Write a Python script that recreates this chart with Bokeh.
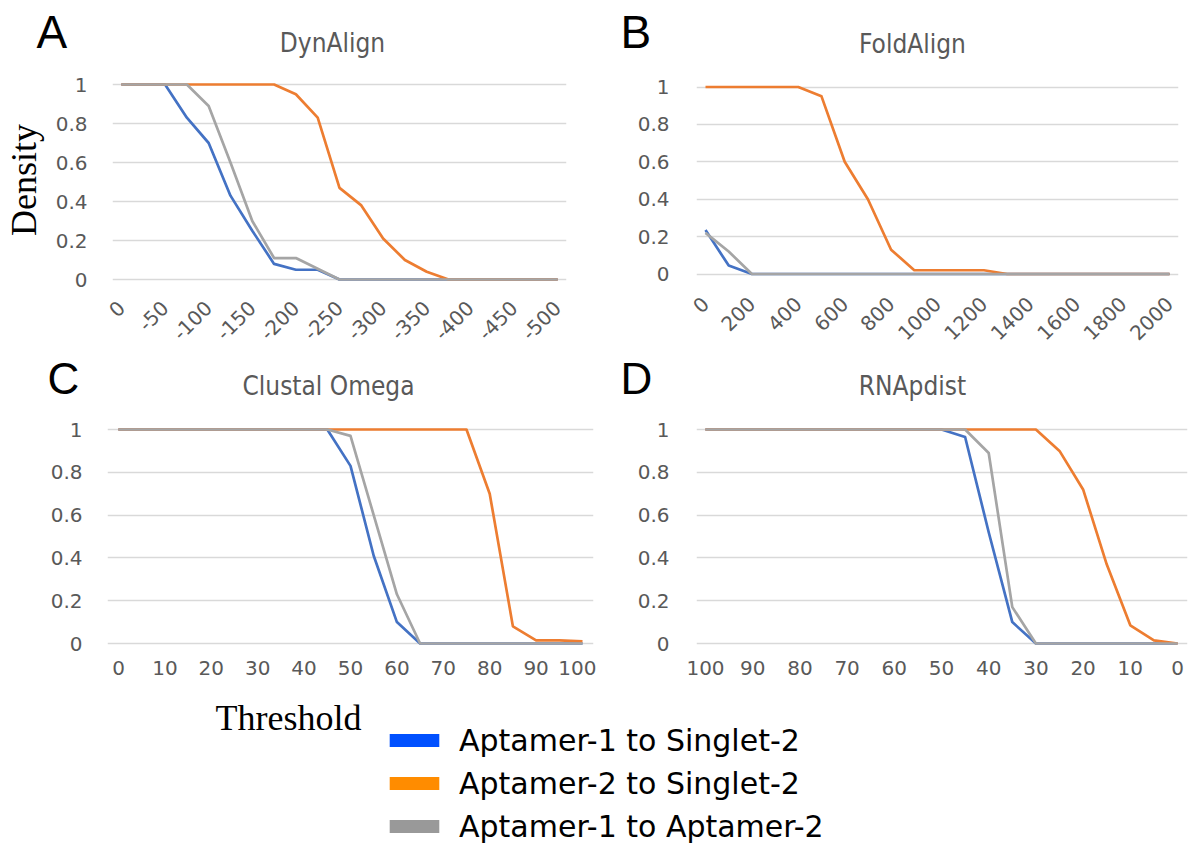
import math
from bokeh.plotting import figure
from bokeh.layouts import column, row
from bokeh.models import Range1d, FixedTicker, NumeralTickFormatter, Label, Legend, LegendItem
from bokeh.embed import file_html
from bokeh.resources import INLINE

# ---------------- data ----------------
series_names = ["Aptamer-1 to Singlet-2", "Aptamer-2 to Singlet-2", "Aptamer-1 to Aptamer-2"]
line_colors = ["#4472C4", "#ED7D31", "#A5A5A5"]
legend_colors = ["#0050FF", "#FF8C00", "#999999"]

dyn_threshold = [0, -25, -50, -75, -100, -125, -150, -175, -200, -225, -250,
                 -275, -300, -325, -350, -375, -400, -425, -450, -475, -500]
dyn_a1_s2 = [1, 1, 1, 0.83, 0.70, 0.43, 0.25, 0.08, 0.05, 0.05, 0, 0, 0, 0, 0, 0, 0, 0, 0, 0, 0]
dyn_a2_s2 = [1, 1, 1, 1, 1, 1, 1, 1, 0.95, 0.83, 0.47, 0.38, 0.21, 0.10, 0.04, 0, 0, 0, 0, 0, 0]
dyn_a1_a2 = [1, 1, 1, 1, 0.89, 0.60, 0.30, 0.11, 0.11, 0.055, 0, 0, 0, 0, 0, 0, 0, 0, 0, 0, 0]
dyn_ticks = [0, -50, -100, -150, -200, -250, -300, -350, -400, -450, -500]

fold_threshold = [0, 100, 200, 300, 400, 500, 600, 700, 800, 900, 1000,
                  1100, 1200, 1300, 1400, 1500, 1600, 1700, 1800, 1900, 2000]
fold_a1_s2 = [0.235, 0.045, 0, 0, 0, 0, 0, 0, 0, 0, 0, 0, 0, 0, 0, 0, 0, 0, 0, 0, 0]
fold_a2_s2 = [1, 1, 1, 1, 1, 0.95, 0.60, 0.40, 0.13, 0.02, 0.02, 0.02, 0.02, 0, 0, 0, 0, 0, 0, 0, 0]
fold_a1_a2 = [0.22, 0.12, 0, 0, 0, 0, 0, 0, 0, 0, 0, 0, 0, 0, 0, 0, 0, 0, 0, 0, 0]
fold_ticks = [0, 200, 400, 600, 800, 1000, 1200, 1400, 1600, 1800, 2000]

clustal_threshold = [0, 5, 10, 15, 20, 25, 30, 35, 40, 45, 50,
                     55, 60, 65, 70, 75, 80, 85, 90, 95, 100]
clustal_a1_s2 = [1, 1, 1, 1, 1, 1, 1, 1, 1, 1, 0.83, 0.41, 0.10, 0, 0, 0, 0, 0, 0, 0, 0]
clustal_a2_s2 = [1, 1, 1, 1, 1, 1, 1, 1, 1, 1, 1, 1, 1, 1, 1, 1, 0.70, 0.08, 0.015, 0.015, 0.01]
clustal_a1_a2 = [1, 1, 1, 1, 1, 1, 1, 1, 1, 1, 0.97, 0.60, 0.23, 0, 0, 0, 0, 0, 0, 0, 0]
clustal_ticks = [0, 10, 20, 30, 40, 50, 60, 70, 80, 90, 100]

rnap_threshold = [100, 95, 90, 85, 80, 75, 70, 65, 60, 55, 50,
                  45, 40, 35, 30, 25, 20, 15, 10, 5, 0]
rnap_a1_s2 = [1, 1, 1, 1, 1, 1, 1, 1, 1, 1, 1, 0.965, 0.52, 0.10, 0, 0, 0, 0, 0, 0, 0]
rnap_a2_s2 = [1, 1, 1, 1, 1, 1, 1, 1, 1, 1, 1, 1, 1, 1, 1, 0.90, 0.72, 0.37, 0.085, 0.015, 0]
rnap_a1_a2 = [1, 1, 1, 1, 1, 1, 1, 1, 1, 1, 1, 1, 0.89, 0.17, 0, 0, 0, 0, 0, 0, 0]
rnap_ticks = [100, 90, 80, 70, 60, 50, 40, 30, 20, 10, 0]

y_ticks = [0, 0.2, 0.4, 0.6, 0.8, 1]

panel_titles = ["DynAlign", "FoldAlign", "Clustal Omega", "RNApdist"]
panel_letters = ["A", "B", "C", "D"]

# ---------------- styling ----------------
TICK_FONT = "DejaVu Sans"
TITLE_FONT = "DejaVu Sans Condensed"
TITLE_SIZE = 26
LETTER_SIZE = 46
LETTER_SIZE_2 = 44
TOTAL_W = 1192
MID = 0.3465  # baseline -> middle-of-text offset (em)


def blank(width, height):
    f = figure(width=width, height=height, output_backend="svg", toolbar_location=None,
               x_range=Range1d(0, 1), y_range=Range1d(0, 1),
               min_border_left=0, min_border_right=0, min_border_top=0, min_border_bottom=0)
    f.axis.visible = False
    f.grid.visible = False
    f.outline_line_color = None
    f.border_fill_color = "white"
    f.background_fill_color = "white"
    return f


def text_label(fig, fig_bottom, ref_x, ref_baseline, size, text, **kw):
    y_mid = ref_baseline - MID * size
    fig.add_layout(Label(x=ref_x, y=fig_bottom - y_mid, x_units="screen", y_units="screen",
                         text=text, text_baseline="middle", text_font_size=f"{size}px", **kw))


def panel(xs, ys, xr, yr, xticks, size, borders, rot, x_standoff, y_standoff):
    w, h = size
    bl, br, bt, bb = borders
    p = figure(width=w, height=h, output_backend="svg", toolbar_location=None,
               x_range=Range1d(*xr), y_range=Range1d(*yr),
               min_border_left=bl, min_border_right=br,
               min_border_top=bt, min_border_bottom=bb)
    p.outline_line_color = None
    p.background_fill_color = "white"
    p.border_fill_color = "white"
    p.xgrid.grid_line_color = None
    p.ygrid.grid_line_color = "#D9D9D9"
    p.ygrid.grid_line_width = 1.3

    for yv, col in zip(ys, line_colors):
        p.line(xs, yv, line_color=col, line_width=2.7, line_join="round")

    p.yaxis.ticker = FixedTicker(ticks=y_ticks)
    p.yaxis.formatter = NumeralTickFormatter(format="0.[0]")
    p.xaxis.ticker = FixedTicker(ticks=xticks)
    p.xaxis.formatter = NumeralTickFormatter(format="0")
    for ax in (p.xaxis[0], p.yaxis[0]):
        ax.axis_line_color = None
        ax.major_tick_line_color = None
        ax.minor_tick_line_color = None
        ax.major_tick_out = 0
        ax.major_tick_in = 0
        ax.major_label_text_font = TICK_FONT
        ax.major_label_text_font_size = "20px"
        ax.major_label_text_color = "#595959"
    p.yaxis.major_label_standoff = y_standoff
    p.xaxis.major_label_standoff = x_standoff
    if rot:
        p.xaxis.major_label_orientation = math.pi / 4
    return p


title_kw = dict(text_align="center", text_font=TITLE_FONT, text_color="#595959")
letter_kw = dict(text_align="left", text_font="Liberation Sans", text_color="black")

# ---- header of row 1 (y 0..64) ----
h1 = blank(TOTAL_W, 64)
text_label(h1, 64, 36, 47, LETTER_SIZE, panel_letters[0], **letter_kw)
text_label(h1, 64, 620, 47, LETTER_SIZE, panel_letters[1], **letter_kw)
text_label(h1, 64, 332, 52, TITLE_SIZE, panel_titles[0], **title_kw)
text_label(h1, 64, 912, 53, TITLE_SIZE, panel_titles[1], **title_kw)

# ---- row 1 (y 64..353); both frames span y 78..281 ----
pA = panel(dyn_threshold, [dyn_a1_s2, dyn_a2_s2, dyn_a1_a2],
           (10.25, -510.25), (-2 / 195, 1 + 6 / 195), dyn_ticks,
           (590, 289), (109, 24, 14, 72), True, 23, 25)
pA.yaxis.axis_label = "Density"
pA.yaxis.axis_label_text_font = "Liberation Serif"
pA.yaxis.axis_label_text_font_size = "36px"
pA.yaxis.axis_label_text_font_style = "normal"
pA.yaxis.axis_label_text_color = "black"
pA.yaxis.axis_label_standoff = 9

pB = panel(fold_threshold, [fold_a1_s2, fold_a2_s2, fold_a1_a2],
           (-38.8, 2038.8), (-7.5 / 187, 1 + 8.5 / 187), fold_ticks,
           (602, 289), (106, 14, 14, 72), True, 19, 27)

# ---- header of row 2 (y 353..410) ----
h2 = blank(TOTAL_W, 57)
text_label(h2, 410, 47, 393, LETTER_SIZE_2, panel_letters[2], **letter_kw)
text_label(h2, 410, 620, 393, LETTER_SIZE_2, panel_letters[3], **letter_kw)
text_label(h2, 410, 328, 395, TITLE_SIZE, panel_titles[2], **title_kw)
text_label(h2, 410, 912, 395, TITLE_SIZE, panel_titles[3], **title_kw)

# ---- row 2 (y 410..688) ----
pC = panel(clustal_threshold, [clustal_a1_s2, clustal_a2_s2, clustal_a1_a2],
           (-2.37, 102.37), (-6 / 214, 1 + 6 / 214), clustal_ticks,
           (596, 278), (107, 3, 13, 39), False, 11, 25)
pD = panel(rnap_threshold, [rnap_a1_s2, rnap_a2_s2, rnap_a1_a2],
           (101.907, -2.118), (-6 / 214, 1 + 6 / 214), rnap_ticks,
           (596, 278), (100, 5, 13, 39), False, 11, 27)

# ---- bottom strip: axis title + legend (y 688..846) ----
pL = blank(TOTAL_W, 158)
items = []
for name, col in zip(series_names, legend_colors):
    r = pL.quad(left=[float("nan")], right=[float("nan")], top=[float("nan")],
                bottom=[float("nan")], fill_color=col, line_color=None)
    items.append(LegendItem(label=name, renderers=[r]))
leg = Legend(items=items, location=(383, -1.5), border_line_color=None,
             background_fill_alpha=0, padding=0, margin=0, spacing=0,
             label_height=43, glyph_height=16, glyph_width=62, label_standoff=14,
             label_text_font="DejaVu Sans", label_text_font_size="30px",
             label_text_color="black")
pL.add_layout(leg)
text_label(pL, 846, 215, 730, 36, "Threshold", text_align="left",
           text_font="Liberation Serif", text_color="black")

layout = column(h1, row(pA, pB), h2, row(pC, pD), pL)
open("out.html", "w").write(file_html(layout, INLINE))
